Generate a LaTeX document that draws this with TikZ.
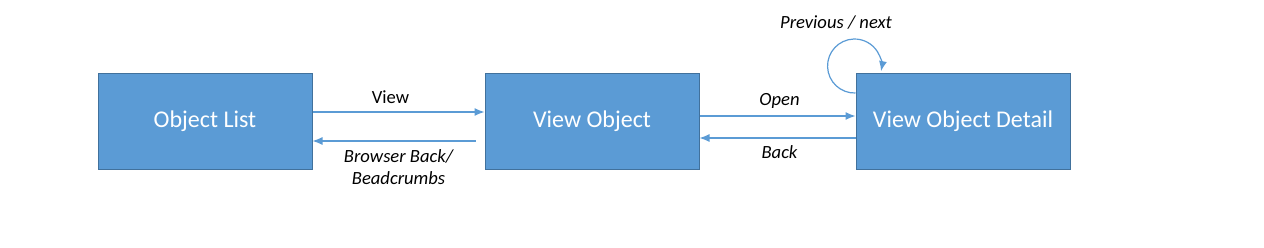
\documentclass[tikz,border=0pt]{standalone}
\usepackage{fontspec}
\setmainfont{Carlito}
\usetikzlibrary{positioning,arrows.meta}
\definecolor{boxblue}{HTML}{5B9BD5}
\definecolor{boxline}{HTML}{41719C}
\begin{document}
\begin{tikzpicture}[x=0.5pt, y=0.5pt,
    >={Latex[length=5pt,width=4pt]},
    stato/.style={draw=boxline, line width=0.5pt, fill=boxblue, text=white,
        minimum width=107pt, minimum height=48pt, inner sep=0pt, font=\fontsize{12}{14}\selectfont},
    freccia/.style={->, draw=boxblue, line width=0.6pt},
    etichetta/.style={font=\fontsize{9.3}{11}\selectfont\itshape}]
    % Cornice
    \useasboundingbox (0,0) rectangle (1264,247);

    % Stati
    \node[stato] (list) at (205,126) {Object List};
    \node[stato, right=86pt of list] (view) {View Object};
    \node[stato, right=78pt of view] (detail) {View Object Detail};

    % Lista <-> oggetto
    \draw[freccia] ([yshift=4.5pt]list.east) -- ([yshift=4.5pt]view.west)
        node[midway, above=0.5pt, xshift=-4pt, font=\fontsize{9.3}{11}\selectfont] {View};
    \draw[freccia, shorten <=4.5pt] ([yshift=-10pt]view.west) -- ([yshift=-10pt]list.east)
        node[midway, below=0.5pt, etichetta, align=center] {Browser Back/\\Beadcrumbs};

    % Oggetto <-> dettaglio
    \draw[freccia] ([yshift=2.5pt]view.east) -- ([yshift=2.5pt]detail.west)
        node[midway, above=0pt, xshift=1pt, etichetta] {Open};
    \draw[freccia] ([yshift=-8.5pt]detail.west) -- ([yshift=-8.5pt]view.east)
        node[midway, below=0pt, xshift=1pt, etichetta] {Back};

    % Precedente / successivo
    \draw[freccia] ([yshift=14pt]detail.west) arc[start angle=-88, end angle=-371, radius=13.5pt];
    \node[etichetta] (prevnext) at (836,224) {Previous / next};
\end{tikzpicture}
\end{document}
